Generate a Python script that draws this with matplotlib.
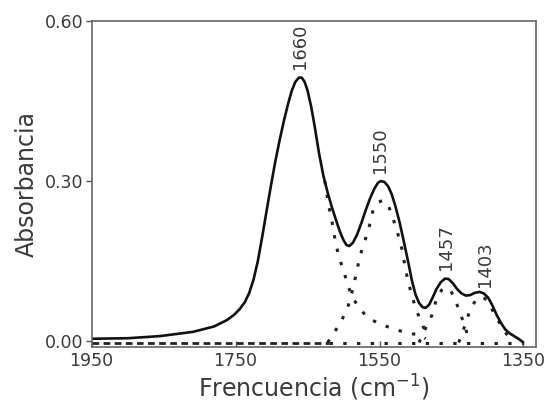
import numpy as np
import matplotlib
matplotlib.use('Agg')
import matplotlib.pyplot as plt

# ----------------------------------------------
# Spectrum: total absorbance (solid)
freq = [1950, 1900, 1855, 1809, 1780, 1762, 1752, 1744, 1737, 1731, 1725, 1719,
        1713, 1707, 1701, 1695, 1689, 1683, 1677, 1672, 1667, 1662, 1658, 1654,
        1650, 1645, 1640, 1634, 1628, 1622, 1616, 1610, 1605, 1600, 1596, 1592,
        1587, 1581, 1575, 1569, 1563, 1557, 1552, 1548, 1543, 1538, 1533, 1528,
        1522, 1516, 1510, 1505, 1500, 1495, 1490, 1486, 1481, 1476, 1471, 1465,
        1459, 1454, 1448, 1442, 1436, 1430, 1424, 1418, 1411, 1405, 1399, 1393,
        1387, 1381, 1375, 1369, 1363, 1357, 1351]
absorb = [0.004, 0.005, 0.009, 0.017, 0.027, 0.039, 0.049, 0.060, 0.073, 0.090,
          0.115, 0.150, 0.195, 0.243, 0.290, 0.335, 0.375, 0.412, 0.445, 0.469,
          0.486, 0.494, 0.494, 0.486, 0.470, 0.440, 0.402, 0.352, 0.310, 0.278,
          0.250, 0.225, 0.205, 0.189, 0.180, 0.178, 0.184, 0.200, 0.222, 0.246,
          0.268, 0.286, 0.297, 0.300, 0.298, 0.290, 0.275, 0.253, 0.222, 0.185,
          0.147, 0.113, 0.087, 0.071, 0.063, 0.062, 0.068, 0.082, 0.097, 0.110,
          0.117, 0.116, 0.108, 0.097, 0.089, 0.085, 0.086, 0.090, 0.092, 0.089,
          0.081, 0.066, 0.048, 0.033, 0.021, 0.014, 0.009, 0.004, -0.002]

# Band components (dotted)
band_1660_x = [1626, 1620, 1616, 1612, 1607, 1600, 1593, 1586, 1578, 1570, 1561,
               1552, 1542, 1533, 1522, 1512, 1503, 1494, 1486]
band_1660_y = [0.300, 0.250, 0.224, 0.192, 0.160, 0.132, 0.100, 0.078, 0.062,
               0.049, 0.040, 0.033, 0.028, 0.024, 0.019, 0.015, 0.013, 0.012, 0.004]

band_1550_x = [1622, 1614, 1608, 1602, 1593, 1586, 1582, 1577, 1570, 1563, 1559,
               1552, 1545, 1538, 1533, 1526, 1519, 1512, 1505, 1498, 1492, 1487, 1484]
band_1550_y = [-0.003, 0.014, 0.026, 0.040, 0.068, 0.103, 0.129, 0.160, 0.189,
               0.221, 0.245, 0.260, 0.264, 0.255, 0.237, 0.208, 0.173, 0.122,
               0.084, 0.055, 0.035, 0.020, 0.005]

band_1457_x = [1495, 1489, 1483, 1477, 1471, 1464, 1458, 1451, 1445, 1438, 1432,
               1428, 1425]
band_1457_y = [-0.003, 0.015, 0.032, 0.049, 0.078, 0.095, 0.100, 0.094, 0.078,
               0.052, 0.030, 0.012, -0.003]

band_1403_x = [1440, 1434, 1429, 1422, 1415, 1408, 1401, 1394, 1386, 1378, 1371,
               1365]
band_1403_y = [-0.003, 0.018, 0.040, 0.065, 0.078, 0.083, 0.077, 0.060, 0.040,
               0.022, 0.008, -0.003]

baseline = -0.004
baseline_split = 1620

peak_labels = ['1660', '1550', '1457', '1403']

# ----------------------------------------------
plt.rcParams['font.family'] = ['DejaVu Sans']
text_col = '#3a3a3a'

fig = plt.figure(figsize=(5.45, 4.07), dpi=100)
ax = fig.add_axes([0.168, 0.148, 0.815, 0.800])

dot = (0, (1.1, 3.4))

# baseline: dashed on the flat left part, dotted where the bands sit
ax.plot([1950, baseline_split], [baseline, baseline], color='#222222',
        lw=2.0, linestyle=(0, (2.4, 1.6)))
ax.plot([baseline_split, 1350], [baseline, baseline], color='#222222',
        lw=2.2, linestyle=dot)

for bx, by in [(band_1660_x, band_1660_y), (band_1550_x, band_1550_y),
               (band_1457_x, band_1457_y), (band_1403_x, band_1403_y)]:
    ax.plot(bx, by, color='#222222', lw=2.2, linestyle=dot)

ax.plot(freq, absorb, color='#111111', lw=1.9)

# peak labels just above the curve
f_sorted = np.array(freq)[::-1]
a_sorted = np.array(absorb)[::-1]
for lab in peak_labels:
    xp = float(lab)
    yp = np.interp(xp, f_sorted, a_sorted)
    ax.annotate(lab, (xp, yp), xytext=(0, 6), textcoords='offset points',
                rotation=90, ha='center', va='bottom', fontsize=13,
                color=text_col)

ax.set_xlim(1950, 1333)
ax.set_ylim(-0.011, 0.6)
ax.set_xticks([1950, 1750, 1550, 1350])
ax.set_yticks([0.0, 0.3, 0.6])
ax.set_yticklabels(['0.00', '0.30', '0.60'])

ax.tick_params(axis='y', direction='out', length=4, width=1, colors='#555555',
               labelcolor=text_col, labelsize=12.5, pad=2)
ax.tick_params(axis='x', direction='in', length=4, width=1, colors='#555555',
               labelcolor=text_col, labelsize=12.5, pad=4)
for s in ax.spines.values():
    s.set_color('#666666')
    s.set_linewidth(1.2)

ax.set_ylabel('Absorbancia', fontsize=17, color=text_col, labelpad=4)
ax.set_xlabel('Frencuencia (cm$^{-1}$)', fontsize=17, color=text_col, labelpad=2)

plt.savefig('out.png', dpi=100)
